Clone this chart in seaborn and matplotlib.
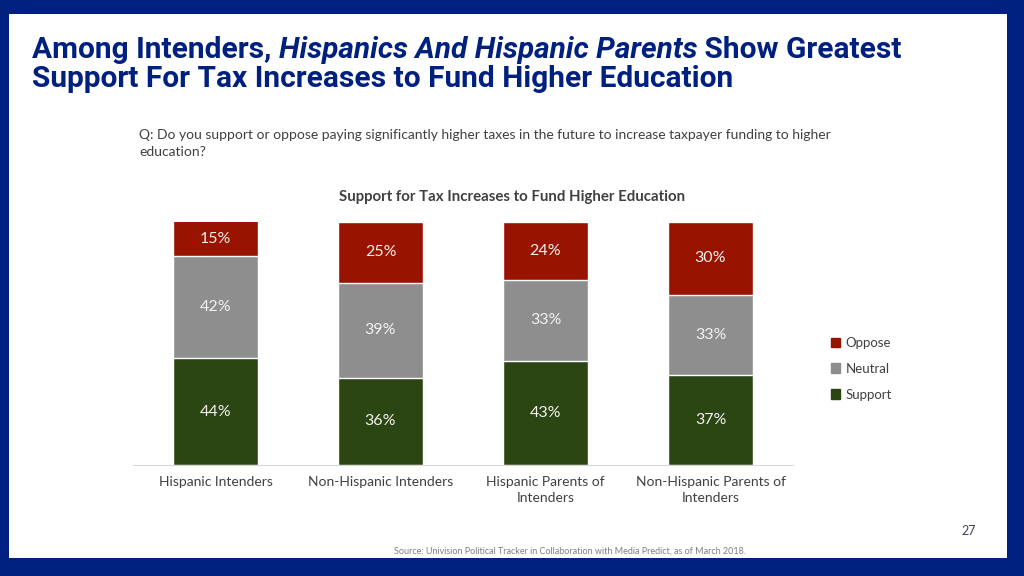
import matplotlib
matplotlib.use("Agg")
import matplotlib.pyplot as plt
import matplotlib.patches as mpatches
import pandas as pd
import seaborn as sns

# data
groups = ["Hispanic Intenders", "Non-Hispanic Intenders",
          "Hispanic Parents of\nIntenders", "Non-Hispanic Parents of\nIntenders"]
support = [44, 36, 43, 37]
neutral = [42, 39, 33, 33]
oppose = [15, 25, 24, 30]

navy = "#00207f"
c_oppose = "#981300"
c_neutral = "#8e8e8e"
c_support = "#2b4612"
txt = "#404040"

df = pd.DataFrame({"group": groups, "Support": support, "Neutral": neutral, "Oppose": oppose})
df["lvl1"] = df["Support"]
df["lvl2"] = df["Support"] + df["Neutral"]
df["lvl3"] = df["lvl2"] + df["Oppose"]

sns.set_style("white")
plt.rcParams["font.family"] = ["Lato", "DejaVu Sans"]

fig = plt.figure(figsize=(10.24, 5.76), dpi=100)
fig.patch.set_facecolor(navy)
# white slide area inside the navy frame
fig.add_artist(mpatches.Rectangle((9 / 1024, 18 / 576), (1007 - 9) / 1024, (562 - 18) / 576,
                                  transform=fig.transFigure, facecolor="white", edgecolor="none", zorder=0))

ax = fig.add_axes([133 / 1024, 111 / 576, 660 / 1024, 243 / 576])
ax.set_facecolor("none")

# stacked bars: draw the cumulative totals from back to front
sns.barplot(data=df, x="group", y="lvl3", color=c_oppose, width=0.52, saturation=1, ax=ax)
sns.barplot(data=df, x="group", y="lvl2", color=c_neutral, width=0.52, saturation=1, ax=ax)
sns.barplot(data=df, x="group", y="lvl1", color=c_support, width=0.52, saturation=1, ax=ax)

for i, row in df.iterrows():
    top = min(row["lvl3"], 100)
    for lo, hi, val in [(0, row["lvl1"], row["Support"]),
                        (row["lvl1"], row["lvl2"], row["Neutral"]),
                        (row["lvl2"], top, row["Oppose"])]:
        ax.text(i, (lo + hi) / 2, "%d%%" % val, ha="center", va="center",
                color="#f2f2f2", fontsize=11.5)

ax.set_xlim(-0.5, 3.5)
ax.set_ylim(0, 100)
ax.set_xlabel("")
ax.set_ylabel("")
ax.set_yticks([])
for s in ["top", "left", "right"]:
    ax.spines[s].set_visible(False)
ax.spines["bottom"].set_color("#d9d9d9")
ax.tick_params(axis="x", length=0, pad=8, labelsize=10, labelcolor=txt)
for lab in ax.get_xticklabels():
    lab.set_linespacing(1.35)

# legend
handles = [mpatches.Patch(color=c, label=l) for c, l in
           [(c_oppose, "Oppose"), (c_neutral, "Neutral"), (c_support, "Support")]]
fig.legend(handles=handles, loc="upper left", bbox_to_anchor=(819 / 1024, 1 - 325 / 576),
           frameon=False, fontsize=9.5, handlelength=0.7, handleheight=0.7,
           handletextpad=0.4, labelspacing=1.05, labelcolor=txt)

# title with italic middle part
fig.canvas.draw()
r = fig.canvas.get_renderer()
x = 32 / 1024
y1 = 1 - 58 / 576
for part, style in [("Among Intenders, ", "normal"),
                    ("Hispanics And Hispanic Parents", "italic"),
                    (" Show Greatest", "normal")]:
    t = fig.text(x, y1, part, fontsize=21.5, fontweight="bold", style=style,
                 color=navy, family="Roboto", va="baseline")
    bb = t.get_window_extent(renderer=r)
    x += bb.width / 1024
fig.text(32 / 1024, 1 - 87 / 576, "Support For Tax Increases to Fund Higher Education",
         fontsize=21.5, fontweight="bold", color=navy, family="Roboto", va="baseline")

fig.text(139 / 1024, 1 - 135 / 576,
         "Q: Do you support or oppose paying significantly higher taxes in the future to increase taxpayer funding to higher",
         fontsize=10, color=txt, va="center")
fig.text(139 / 1024, 1 - 152 / 576, "education?", fontsize=10, color=txt, va="center")

fig.text(512 / 1024, 1 - 197 / 576, "Support for Tax Increases to Fund Higher Education",
         fontsize=10.8, fontweight="bold", color=txt, ha="center", va="center")

fig.text(969 / 1024, 1 - 531 / 576, "27", fontsize=9, color="#404060", ha="center", va="center")
fig.text(570 / 1024, 1 - 551 / 576,
         "Source: Univision Political Tracker in Collaboration with Media Predict, as of March 2018.",
         fontsize=6.5, color="#7f7f7f", ha="center", va="center")

fig.savefig("out.png", dpi=100, facecolor=fig.get_facecolor())
